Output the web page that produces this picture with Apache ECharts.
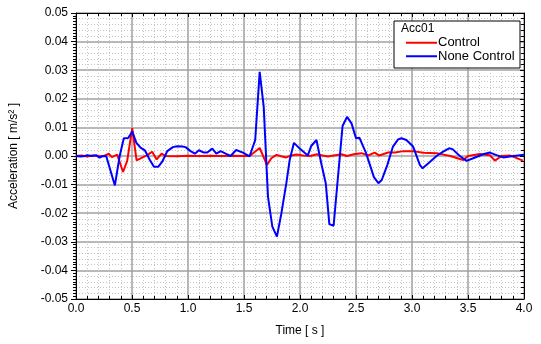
<!DOCTYPE html>
<html>
<head>
<meta charset="utf-8">
<script src="https://cdn.jsdelivr.net/npm/echarts@6/dist/echarts.min.js"></script>
<style>
html,body{margin:0;padding:0;background:#fff;}
#chart{width:541px;height:344px;}
</style>
</head>
<body>
<div id="chart"></div>
<script>
// ---- data ----
var legendTitle = 'Acc01';
var seriesNames = ['Control', 'None Control'];
var xTitle = 'Time [ s ]';
var yTitle = 'Acceleration [ m/s\u00B2 ]';

var controlTime = [0.00,0.05,0.10,0.15,0.20,0.25,0.293,0.32,0.368,0.42,0.457,0.502,0.541,0.59,0.636,0.68,0.72,0.764,0.80,0.90,1.00,1.10,1.20,1.30,1.40,1.50,1.55,1.64,1.705,1.744,1.79,1.83,1.878,1.923,1.968,2.03,2.09,2.152,2.20,2.25,2.30,2.37,2.42,2.48,2.549,2.61,2.667,2.706,2.74,2.787,2.85,2.92,3.01,3.10,3.22,3.34,3.457,3.50,3.606,3.695,3.74,3.80,3.874,3.99];
var controlValue = [0.0000,0.0002,-0.0002,0.0002,-0.0001,0.0000,0.0008,-0.0004,0.0005,-0.0056,-0.0017,0.0097,-0.0015,-0.0006,0.0003,0.0015,-0.0012,0.0008,0.0000,-0.0001,0.0001,0.0000,0.0001,0.0000,0.0001,0.0000,0.0000,0.0028,-0.0031,-0.0008,0.0004,-0.0001,-0.0005,0.0002,0.0005,0.0002,0.0000,0.0006,0.0002,-0.0002,0.0002,0.0006,0.0000,0.0006,0.0010,0.0002,0.0012,0.0002,0.0006,0.0012,0.0012,0.0017,0.0017,0.0011,0.0010,0.0000,-0.0014,0.0000,0.0007,0.0003,-0.0016,0.0000,0.0002,-0.0016];

var noneTime = [0.00,0.04,0.08,0.10,0.14,0.18,0.21,0.24,0.27,0.347,0.39,0.427,0.466,0.502,0.538,0.576,0.615,0.657,0.696,0.734,0.77,0.815,0.865,0.904,0.95,0.978,1.023,1.062,1.097,1.142,1.172,1.217,1.253,1.291,1.336,1.38,1.43,1.49,1.55,1.60,1.64,1.676,1.714,1.753,1.794,1.834,1.878,1.908,1.946,2.00,2.07,2.10,2.147,2.19,2.23,2.262,2.30,2.38,2.42,2.46,2.50,2.53,2.59,2.66,2.70,2.73,2.78,2.83,2.876,2.906,2.95,3.01,3.07,3.094,3.144,3.219,3.278,3.331,3.362,3.427,3.487,3.546,3.635,3.695,3.755,3.814,3.874,4.00];
var noneValue = [0.0000,-0.0002,0.0000,0.0003,0.0000,0.0003,-0.0006,0.0000,-0.0001,-0.0103,0.0000,0.0062,0.0063,0.0086,0.0047,0.0029,0.0020,-0.0012,-0.0038,-0.0038,-0.0020,0.0017,0.0031,0.0034,0.0033,0.0031,0.0017,0.0008,0.0020,0.0012,0.0012,0.0026,0.0008,0.0017,0.0008,0.0000,0.0021,0.0012,-0.0001,0.0056,0.0294,0.0172,-0.0142,-0.0247,-0.0282,-0.0200,-0.0095,-0.0014,0.0046,0.0025,0.0002,0.0035,0.0056,-0.0026,-0.0095,-0.0238,-0.0244,0.0105,0.0137,0.0114,0.0062,0.0064,0.0010,-0.0074,-0.0095,-0.0084,-0.0031,0.0033,0.0058,0.0062,0.0056,0.0033,-0.0031,-0.0043,-0.0026,0.0000,0.0015,0.0027,0.0024,0.0000,-0.0017,-0.0008,0.0006,0.0012,0.0003,-0.0005,-0.0002,0.0004];

var xMin = 0, xMax = 4, xStep = 0.5;
var yMin = -0.05, yMax = 0.05, yStep = 0.01;

function pairs(t, v){ return t.map(function(x,i){ return [x, v[i]]; }); }

var FONT = 'Arial, "Liberation Sans", sans-serif';
var chart = echarts.init(document.getElementById('chart'));
var gridLine = {show:true, lineStyle:{color:'#a0a0a0', width:1.5}};
var minorLine = {show:true, lineStyle:{color:'#c4c4c4', width:1, type:[1,2]}};

chart.setOption({
  backgroundColor:'#ffffff',
  animation:false,
  grid:{left:76, top:13, right:17, bottom:45, containLabel:false},
  graphic:[
    {type:'rect', shape:{x:394, y:21, width:126, height:47}, style:{fill:'#fff', stroke:'#000', lineWidth:1}, z:50},
    {type:'text', x:401, y:23, style:{text:legendTitle, fill:'#000', font:'12px ' + FONT}, z:51}
  ],
  legend:{
    orient:'vertical', left:406, top:36, icon:'rect', itemWidth:31, itemHeight:2, itemGap:0, padding:0,
    textStyle:{fontFamily:FONT, fontSize:13, color:'#000', padding:[0,0,0,-4], lineHeight:13.5},
    data:seriesNames, z:52
  },
  xAxis:[
    {type:'value', min:xMin, max:xMax, interval:xStep, position:'bottom',
     name:xTitle, nameLocation:'middle', nameGap:26, nameTextStyle:{fontFamily:FONT, fontSize:12, color:'#000'},
     axisLine:{show:true, onZero:false, lineStyle:{color:'#000', width:1}},
     axisTick:{show:true, inside:true, length:4, lineStyle:{color:'#000'}},
     minorTick:{show:true, splitNumber:5, length:3, lineStyle:{color:'#000'}},
     axisLabel:{margin:4, fontFamily:FONT, fontSize:12, color:'#000', formatter:function(v){return v.toFixed(1);}},
     splitLine:gridLine, minorSplitLine:minorLine},
    {type:'value', min:xMin, max:xMax, interval:xStep, position:'top',
     axisLine:{show:true, onZero:false, lineStyle:{color:'#000', width:1}},
     axisTick:{show:true, inside:true, length:4, lineStyle:{color:'#000'}},
     minorTick:{show:true, splitNumber:5, length:3, lineStyle:{color:'#000'}},
     axisLabel:{show:false}, splitLine:{show:false}}
  ],
  yAxis:[
    {type:'value', min:yMin, max:yMax, interval:yStep, position:'left',
     name:yTitle, nameLocation:'middle', nameGap:56, nameRotate:90, nameTextStyle:{fontFamily:FONT, fontSize:12, color:'#000'},
     axisLine:{show:true, onZero:false, lineStyle:{color:'#000', width:1}},
     axisTick:{show:true, inside:false, length:5, lineStyle:{color:'#000'}},
     minorTick:{show:true, splitNumber:10, length:3, lineStyle:{color:'#000'}},
     axisLabel:{margin:8, fontFamily:FONT, fontSize:12, color:'#000', formatter:function(v){return v.toFixed(2);}},
     splitLine:gridLine, minorSplitLine:{show:false}},
    {type:'value', min:yMin, max:yMax, interval:yStep, position:'right',
     axisLine:{show:true, onZero:false, lineStyle:{color:'#000', width:1}},
     axisTick:{show:true, inside:true, length:4, lineStyle:{color:'#000'}},
     minorTick:{show:true, splitNumber:5, length:3, lineStyle:{color:'#000'}},
     axisLabel:{show:false}, splitLine:{show:false}, minorSplitLine:minorLine}
  ],
  series:[
    {name:seriesNames[0], type:'line', xAxisIndex:0, yAxisIndex:0, data:pairs(controlTime, controlValue),
     symbol:'none', lineStyle:{color:'#ff0000', width:2}, itemStyle:{color:'#ff0000'}, z:3},
    {name:seriesNames[1], type:'line', xAxisIndex:0, yAxisIndex:0, data:pairs(noneTime, noneValue),
     symbol:'none', lineStyle:{color:'#0000ff', width:2}, itemStyle:{color:'#0000ff'}, z:4}
  ]
});
</script>
</body>
</html>
